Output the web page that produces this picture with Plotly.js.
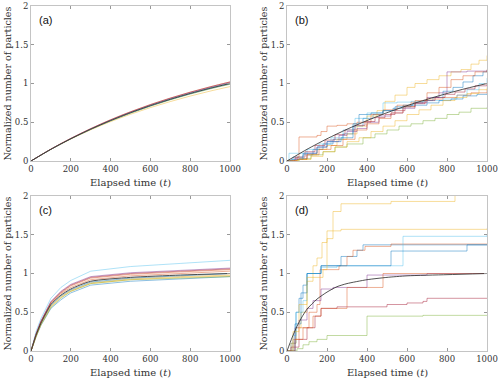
<!DOCTYPE html>
<html>
<head>
<meta charset="utf-8">
<script src="https://cdn.plot.ly/plotly-3.0.1.min.js"></script>
<style>html,body{margin:0;padding:0;background:#fff;}#chart{width:500px;height:380px;}</style>
</head>
<body>
<div id="chart"></div>
<script>
// MATLAB default colour order
const lineColors = ['#0072BD','#D95319','#EDB120','#7E2F8E','#77AC30','#4DBEEE','#A2142F','#0072BD','#D95319','#EDB120'];

// ---------- panel (a): smooth curves ----------
const tA = [0,100,200,300,400,500,600,700,800,900,1000];
const aMean = [0,0.151,0.287,0.410,0.522,0.623,0.714,0.796,0.871,0.939,1.0];
const aRuns = [
  [0,0.151,0.286,0.409,0.520,0.620,0.711,0.793,0.868,0.935,0.995],
  [0,0.154,0.293,0.418,0.533,0.636,0.729,0.812,0.889,0.958,1.02],
  [0,0.150,0.283,0.402,0.508,0.603,0.689,0.767,0.838,0.902,0.96],
  [0,0.152,0.289,0.414,0.527,0.629,0.721,0.804,0.880,0.948,1.01],
  [0,0.150,0.285,0.407,0.517,0.617,0.707,0.789,0.863,0.930,0.99],
  [0,0.151,0.288,0.412,0.524,0.625,0.717,0.800,0.875,0.943,1.005],
  [0,0.153,0.291,0.417,0.531,0.634,0.727,0.811,0.887,0.956,1.02]
];

// ---------- panel (b): step random walks ----------
const bRunsX = [
  [0,30,80,130,180,230,280,330,380,430,480,530,580,630,680,730,780,830,880,930,980,1000],
  [0,50,60,150,170,200,250,300,350,420,480,550,620,700,780,850,920,1000],
  [0,50,100,150,200,250,300,350,400,450,490,540,600,640,700,760,820,870,920,960,1000],
  [0,40,100,150,200,260,300,350,400,460,520,580,640,700,760,800,900,1000],
  [0,60,120,180,240,300,380,440,500,560,620,680,740,800,860,920,1000],
  [0,10,100,160,220,280,340,400,480,550,620,700,780,850,900,960,1000],
  [0,40,90,140,190,240,290,340,390,440,490,540,590,640,690,740,790,840,890,940,1000],
  [0,20,80,150,200,270,330,360,420,480,540,620,700,760,820,880,950,1000],
  [0,50,100,160,220,280,340,400,460,520,580,640,700,760,820,880,940,1000],
  [0,60,120,180,240,300,360,420,480,540,600,660,720,780,840,900,960,1000]
];
const bRunsY = [
  [0,0.05,0.08,0.15,0.22,0.28,0.35,0.45,0.55,0.6,0.65,0.68,0.72,0.75,0.78,0.82,0.9,0.95,1.02,1.1,1.15,1.17],
  [0,0.05,0.31,0.33,0.38,0.45,0.46,0.48,0.5,0.6,0.66,0.72,0.76,0.8,0.82,0.85,0.88,0.92],
  [0,0.02,0.08,0.15,0.2,0.28,0.35,0.45,0.58,0.65,0.77,0.85,0.95,1.0,1.05,1.1,1.15,1.18,1.25,1.3,1.36],
  [0,0.03,0.1,0.18,0.25,0.33,0.38,0.42,0.5,0.58,0.62,0.68,0.75,0.82,0.88,1.15,1.16,1.17],
  [0,0.03,0.08,0.12,0.18,0.22,0.3,0.35,0.4,0.45,0.48,0.52,0.55,0.6,0.63,0.68,0.69],
  [0,0.1,0.15,0.22,0.3,0.4,0.55,0.62,0.75,0.76,0.77,0.78,0.8,0.85,0.92,1.0,1.07],
  [0,0.05,0.12,0.2,0.27,0.34,0.4,0.46,0.51,0.56,0.6,0.65,0.7,0.74,0.78,0.82,0.86,0.89,0.93,0.97,1.0],
  [0,0.02,0.1,0.18,0.25,0.3,0.48,0.6,0.62,0.65,0.7,0.72,0.75,0.78,0.8,0.84,0.86,0.87],
  [0,0.02,0.08,0.15,0.2,0.28,0.4,0.48,0.55,0.62,0.7,0.78,0.88,0.95,1.05,1.1,1.15,1.18],
  [0,0.02,0.06,0.12,0.18,0.25,0.3,0.38,0.45,0.52,0.6,0.66,0.72,0.78,0.82,0.87,0.92,0.95]
];

// ---------- panel (c): piecewise curves ----------
const tC = [0,25,50,100,150,200,300,500,750,1000];
const cMean = [0,0.2,0.36,0.6,0.72,0.8,0.9,0.95,0.98,1.0];
const cRuns = [
  [0,0.18,0.33,0.55,0.66,0.75,0.85,0.9,0.93,0.96],
  [0,0.21,0.38,0.62,0.75,0.84,0.94,0.99,1.02,1.05],
  [0,0.19,0.35,0.58,0.7,0.78,0.88,0.93,0.96,0.98],
  [0,0.22,0.39,0.64,0.77,0.86,0.96,1.01,1.04,1.07],
  [0,0.19,0.34,0.56,0.68,0.77,0.87,0.92,0.94,0.96],
  [0,0.25,0.42,0.68,0.82,0.91,1.03,1.09,1.13,1.17],
  [0,0.22,0.38,0.63,0.76,0.85,0.95,1.0,1.03,1.06],
  [0,0.2,0.36,0.59,0.71,0.79,0.89,0.94,0.97,1.0],
  [0,0.21,0.37,0.61,0.74,0.82,0.92,0.97,1.0,1.03],
  [0,0.19,0.34,0.57,0.69,0.77,0.87,0.92,0.95,0.97]
];

// ---------- panel (d): step curves ----------
const tD = [0,25,50,75,100,150,200,250,300,400,500,600,800,1000];
const dMean = [0,0.17,0.32,0.44,0.54,0.67,0.76,0.83,0.87,0.92,0.95,0.97,0.985,1.0];
const dRunsX = [
  [0,20,45,60,80,100,150,170,270,350,380,1000],
  [0,30,60,110,150,165,260,300,330,390,520,1000],
  [0,20,45,70,100,130,150,175,200,230,270,520,840,1000],
  [0,40,60,100,130,170,230,400,700,1000],
  [0,50,80,110,150,200,400,680,1000],
  [0,30,45,80,100,170,250,580,1000],
  [0,20,60,100,140,170,250,500,600,680,700,1000],
  [0,40,70,100,170,520,900,1000],
  [0,40,80,130,170,300,480,1000],
  [0,30,60,100,180,200,270,1000]
];
const dRunsY = [
  [0,0.1,0.5,0.68,0.85,1.0,1.0,1.1,1.22,1.3,1.37,1.37],
  [0,0.15,0.3,0.5,0.6,1.05,1.1,1.22,1.3,1.35,1.38,1.38],
  [0,0.1,0.3,0.5,0.9,1.1,1.2,1.4,1.45,1.8,1.9,1.93,2.05,2.05],
  [0,0.3,0.4,0.55,0.65,0.8,0.82,0.98,1.0,1.0],
  [0,0.03,0.08,0.12,0.15,0.2,0.45,0.46,0.46],
  [0,0.2,0.5,0.65,1.0,1.08,1.1,1.48,1.5],
  [0,0.05,0.15,0.3,0.45,0.55,0.57,0.6,0.62,0.64,0.68,0.68],
  [0,0.35,0.75,1.0,1.1,1.29,1.37,1.37],
  [0,0.15,0.3,0.45,0.55,0.82,1.0,1.0],
  [0,0.25,0.6,0.95,1.05,1.55,1.57,1.58]
];

const panelLabels = ['(a)','(b)','(c)','(d)'];
const xTitle = 'Elapsed time (<i>t</i>)';
const yTitle = 'Normalized number of particles';
const xTicks = [0,200,400,600,800,1000];
const yTicks = [0,0.5,1,1.5,2];

const traces = [];
const RUN_OP = 0.45;
function addRun(x, y, color, ax, shape) {
  traces.push({x:x, y:y, type:'scatter', mode:'lines', xaxis:'x'+ax, yaxis:'y'+ax,
    line:{color:color, width:1, shape:shape}, opacity:RUN_OP, hoverinfo:'skip', showlegend:false});
}
function addMean(x, y, ax) {
  traces.push({x:x, y:y, type:'scatter', mode:'lines', xaxis:'x'+ax, yaxis:'y'+ax,
    line:{color:'#333', width:1, shape:'spline', smoothing:0.6}, opacity:0.85, hoverinfo:'skip', showlegend:false});
}
aRuns.forEach((r,i)=>addRun(tA, r, lineColors[i], '', 'spline'));
addMean(tA, aMean, '');
bRunsX.forEach((x,i)=>addRun(x, bRunsY[i], lineColors[i], '2', 'hv'));
addMean(tA, aMean, '2');
cRuns.forEach((r,i)=>addRun(tC, r, lineColors[i], '3', 'linear'));
addMean(tC, cMean, '3');
dRunsX.forEach((x,i)=>addRun(x, dRunsY[i], lineColors[i], '4', 'hv'));
addMean(tD, dMean, '4');

const serif = 'DejaVu Serif';
function xAxis(dom, anchor) {
  return {domain:dom, anchor:anchor, range:[0,1000], tickvals:xTicks, ticks:'inside', ticklen:3,
    tickcolor:'#999', showline:true, linecolor:'#c4c4c4', linewidth:1, mirror:'ticks',
    showgrid:false, zeroline:false, tickfont:{family:serif, size:8.5, color:'#333'}};
}
function yAxis(dom, anchor) {
  return {domain:dom, anchor:anchor, range:[0,2], tickvals:yTicks, ticks:'inside', ticklen:3,
    tickcolor:'#999', showline:true, linecolor:'#c4c4c4', linewidth:1, mirror:'ticks',
    showgrid:false, zeroline:false, tickfont:{family:serif, size:8.5, color:'#333'}};
}
const xL = [0.062,0.46], xR = [0.574,0.974];
const yT = [0.5763,0.9842], yB = [0.0763,0.4842];
const panels = [{x:xL,y:yT},{x:xR,y:yT},{x:xL,y:yB},{x:xR,y:yB}];

const annotations = [];
panels.forEach((p,i)=>{
  const ax = i===0 ? '' : String(i+1);
  annotations.push({text:panelLabels[i], xref:'x'+ax+' domain', yref:'y'+ax+' domain', x:0.03, y:0.96,
    xanchor:'left', yanchor:'top', showarrow:false,
    font:{family:'Liberation Sans', size:11, color:'#111'}});
  annotations.push({text:xTitle, xref:'paper', yref:'paper', x:(p.x[0]+p.x[1])/2, y:p.y[0]-21/380,
    xanchor:'center', yanchor:'middle', showarrow:false,
    font:{family:serif, size:10, color:'#333'}});
  annotations.push({text:yTitle, xref:'paper', yref:'paper', x:p.x[0]-23/500, y:(p.y[0]+p.y[1])/2,
    xanchor:'center', yanchor:'middle', textangle:-90, showarrow:false,
    font:{family:serif, size:9.5, color:'#333'}});
});

const layout = {
  width:500, height:380, margin:{l:0,r:0,t:0,b:0}, paper_bgcolor:'#fff', plot_bgcolor:'#fff',
  showlegend:false,
  xaxis:xAxis(xL,'y'), yaxis:yAxis(yT,'x'),
  xaxis2:xAxis(xR,'y2'), yaxis2:yAxis(yT,'x2'),
  xaxis3:xAxis(xL,'y3'), yaxis3:yAxis(yB,'x3'),
  xaxis4:xAxis(xR,'y4'), yaxis4:yAxis(yB,'x4'),
  annotations: annotations
};
Plotly.newPlot('chart', traces, layout, {staticPlot:true, displayModeBar:false});
</script>
</body>
</html>
